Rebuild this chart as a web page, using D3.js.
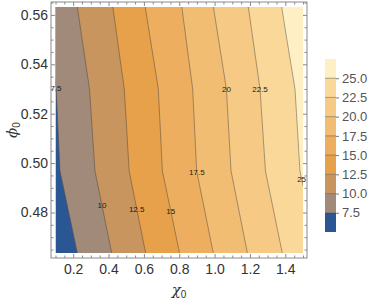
<!DOCTYPE html>
<html>
<head>
<meta charset="utf-8">
<script src="https://cdn.jsdelivr.net/npm/d3@7"></script>
<style>
  html, body { margin: 0; padding: 0; background: #fff; }
  svg { display: block; }
  text { font-family: "Liberation Sans", Arial, sans-serif; }
</style>
</head>
<body>
<svg id="chart" width="374" height="299"></svg>
<script>
// ---- data ----
const chiValues = [0.1, 0.2, 0.3, 0.4, 0.5, 0.6, 0.7, 0.8, 0.9, 1.0, 1.1, 1.2, 1.3, 1.4, 1.5];
const phiValues = [0.4636, 0.4968, 0.5300, 0.5632];
const zRow0 = [5.92, 7.20, 8.49, 9.77, 11.07, 12.37, 13.67, 14.98, 16.29, 17.60, 18.90, 20.19, 21.45, 22.72, 23.98];
const zRow1 = [7.18, 8.44, 9.70, 10.99, 12.28, 13.61, 14.94, 16.23, 17.52, 18.81, 20.09, 21.37, 22.66, 23.94, 25.22];
const zRow2 = [7.45, 8.80, 10.10, 11.37, 12.64, 13.94, 15.24, 16.52, 17.81, 19.12, 20.44, 21.76, 23.06, 24.31, 25.57];
const zRow3 = [8.49, 9.71, 10.94, 12.17, 13.52, 14.91, 16.11, 17.30, 18.68, 20.09, 21.36, 22.62, 23.95, 25.27, 26.59];
const zRows = [zRow0, zRow1, zRow2, zRow3];
const levels = [7.5, 10, 12.5, 15, 17.5, 20, 22.5, 25];
const levelLabels = ["7.5", "10", "12.5", "15", "17.5", "20", "22.5", "25"];
const labelPhi = [0.5304, 0.4830, 0.4814, 0.4806, 0.4964, 0.5300, 0.5300, 0.4936];
const bandColors = ["#2a5693", "#a18a79", "#c9955f", "#e7a14a", "#edaf5f", "#f1bd72", "#f6ca85", "#fad89a", "#fef0c4"];
const xMajorTicks = [0.2, 0.4, 0.6, 0.8, 1.0, 1.2, 1.4];
const xMinorTicks = [0.1, 0.15, 0.25, 0.3, 0.35, 0.45, 0.5, 0.55, 0.65, 0.7, 0.75, 0.85, 0.9, 0.95, 1.05, 1.1, 1.15, 1.25, 1.3, 1.35, 1.45, 1.5];
const yMajorTicks = [0.48, 0.50, 0.52, 0.54, 0.56];
const yMinorTicks = [0.465, 0.47, 0.475, 0.485, 0.49, 0.495, 0.505, 0.51, 0.515, 0.525, 0.53, 0.535, 0.545, 0.55, 0.555, 0.565];
const legendTicks = [7.5, 10, 12.5, 15, 17.5, 20, 22.5, 25];

// ---- layout ----
const svg = d3.select("#chart");
const plot = {x0: 55.5, x1: 303, y0: 7, y1: 253};
const frame = {x0: 51, x1: 307, y0: 2, y1: 258};

const x = d3.scaleLinear().domain([chiValues[0], chiValues[chiValues.length - 1]]).range([plot.x0, plot.x1]);
const y = d3.scaleLinear().domain([phiValues[0], phiValues[phiValues.length - 1]]).range([plot.y1, plot.y0]);

const n = chiValues.length, m = phiValues.length;
const values = [];
zRows.forEach(r => r.forEach(v => values.push(v)));
const dchi = chiValues[1] - chiValues[0];
const dphi = phiValues[1] - phiValues[0];

const contours = d3.contours().size([n, m]).thresholds(levels)(values);
const proj = d3.geoTransform({
  point: function(gx, gy) {
    this.stream.point(x(chiValues[0] + (gx - 0.5) * dchi), y(phiValues[0] + (gy - 0.5) * dphi));
  }
});
const path = d3.geoPath(proj);

svg.append("defs").append("clipPath").attr("id", "clip")
  .append("rect").attr("x", plot.x0).attr("y", plot.y0)
  .attr("width", plot.x1 - plot.x0).attr("height", plot.y1 - plot.y0);

const g = svg.append("g").attr("clip-path", "url(#clip)");
g.append("rect").attr("x", plot.x0).attr("y", plot.y0)
  .attr("width", plot.x1 - plot.x0).attr("height", plot.y1 - plot.y0)
  .attr("fill", bandColors[0]);
g.selectAll("path.fill").data(contours).join("path")
  .attr("class", "fill")
  .attr("d", path)
  .attr("fill", (d, i) => bandColors[i + 1])
  .attr("stroke", (d, i) => bandColors[i + 1])
  .attr("stroke-width", 0.3);
g.selectAll("path.line").data(contours).join("path")
  .attr("class", "line")
  .attr("d", path)
  .attr("fill", "none")
  .attr("stroke", "#3a3a3a")
  .attr("stroke-opacity", 0.55)
  .attr("stroke-width", 0.8);

// contour labels
function crossing(level, phi) {
  let j = 0;
  while (j < m - 2 && phi > phiValues[j + 1]) j++;
  const f = (phi - phiValues[j]) / (phiValues[j + 1] - phiValues[j]);
  const row = chiValues.map((c, i) => zRows[j][i] * (1 - f) + zRows[j + 1][i] * f);
  for (let i = 0; i < n - 1; i++) {
    if ((row[i] - level) * (row[i + 1] - level) <= 0) {
      return chiValues[i] + (level - row[i]) / (row[i + 1] - row[i]) * (chiValues[i + 1] - chiValues[i]);
    }
  }
  return level < row[0] ? chiValues[0] : chiValues[n - 1];
}
svg.append("g").selectAll("text").data(levels).join("text")
  .attr("x", (d, i) => x(crossing(d, labelPhi[i])))
  .attr("y", (d, i) => y(labelPhi[i]))
  .attr("dy", "0.35em")
  .attr("text-anchor", "middle")
  .attr("font-size", 8)
  .attr("fill", "#1a1a1a")
  .text((d, i) => levelLabels[i]);

// ---- frame & ticks ----
const frameColor = "#8a8a8a";
svg.append("rect").attr("x", frame.x0).attr("y", frame.y0)
  .attr("width", frame.x1 - frame.x0).attr("height", frame.y1 - frame.y0)
  .attr("fill", "none").attr("stroke", frameColor).attr("stroke-width", 1);

function styleAxis(sel) {
  sel.select(".domain").remove();
  sel.selectAll(".tick line").attr("stroke", frameColor);
  sel.selectAll(".tick text").attr("fill", "#333").attr("font-size", 14)
    .attr("font-family", "Liberation Sans, Arial, sans-serif");
}
svg.append("g").attr("transform", `translate(0,${frame.y1})`)
  .call(d3.axisBottom(x).tickValues(xMajorTicks).tickFormat(d3.format(".1f")).tickSizeInner(-4).tickSizeOuter(0).tickPadding(6.5))
  .call(styleAxis);
svg.append("g").attr("transform", `translate(0,${frame.y1})`)
  .call(d3.axisBottom(x).tickValues(xMinorTicks).tickFormat("").tickSizeInner(-2.5).tickSizeOuter(0))
  .call(styleAxis);
svg.append("g").attr("transform", `translate(0,${frame.y0})`)
  .call(d3.axisTop(x).tickValues(xMajorTicks).tickFormat("").tickSizeInner(-4).tickSizeOuter(0))
  .call(styleAxis);
svg.append("g").attr("transform", `translate(0,${frame.y0})`)
  .call(d3.axisTop(x).tickValues(xMinorTicks).tickFormat("").tickSizeInner(-2.5).tickSizeOuter(0))
  .call(styleAxis);
svg.append("g").attr("transform", `translate(${frame.x0},0)`)
  .call(d3.axisLeft(y).tickValues(yMajorTicks).tickFormat(d3.format(".2f")).tickSizeInner(-4).tickSizeOuter(0).tickPadding(3))
  .call(styleAxis);
svg.append("g").attr("transform", `translate(${frame.x0},0)`)
  .call(d3.axisLeft(y).tickValues(yMinorTicks).tickFormat("").tickSizeInner(-2.5).tickSizeOuter(0))
  .call(styleAxis);
svg.append("g").attr("transform", `translate(${frame.x1},0)`)
  .call(d3.axisRight(y).tickValues(yMajorTicks).tickFormat("").tickSizeInner(-4).tickSizeOuter(0))
  .call(styleAxis);
svg.append("g").attr("transform", `translate(${frame.x1},0)`)
  .call(d3.axisRight(y).tickValues(yMinorTicks).tickFormat("").tickSizeInner(-2.5).tickSizeOuter(0))
  .call(styleAxis);

// axis titles
const xt = svg.append("text").attr("x", (frame.x0 + frame.x1) / 2).attr("y", 295)
  .attr("text-anchor", "middle").attr("fill", "#333")
  .style("font-family", "DejaVu Serif, serif").attr("font-size", 15);
xt.append("tspan").attr("font-style", "italic").text("χ");
xt.append("tspan").attr("font-size", 10).attr("dy", 3).style("font-family", "Liberation Sans, sans-serif").text("0");

const yt = svg.append("text")
  .attr("transform", `translate(17,${(frame.y0 + frame.y1) / 2}) rotate(-90)`)
  .attr("text-anchor", "middle").attr("fill", "#333")
  .style("font-family", "DejaVu Serif, serif").attr("font-size", 15);
yt.append("tspan").attr("font-style", "italic").text("ϕ");
yt.append("tspan").attr("font-size", 10).attr("dy", 3).style("font-family", "Liberation Sans, sans-serif").text("0");

// ---- legend ----
const lg = {x0: 325, x1: 336, y0: 59, y1: 232};
const ly = d3.scaleLinear().domain([5, 27.5]).range([lg.y1, lg.y0]);
const bandEdges = [5].concat(levels).concat([27.5]);
const leg = svg.append("g");
leg.selectAll("rect").data(bandColors).join("rect")
  .attr("x", lg.x0)
  .attr("width", lg.x1 - lg.x0)
  .attr("y", (d, i) => ly(bandEdges[i + 1]))
  .attr("height", (d, i) => ly(bandEdges[i]) - ly(bandEdges[i + 1]))
  .attr("fill", d => d);
leg.selectAll("line.sep").data(levels).join("line")
  .attr("class", "sep")
  .attr("x1", lg.x0).attr("x2", lg.x1)
  .attr("y1", d => ly(d)).attr("y2", d => ly(d))
  .attr("stroke", "#3a3a3a").attr("stroke-opacity", 0.55).attr("stroke-width", 0.8);
svg.append("g").attr("transform", `translate(${lg.x1},0)`)
  .call(d3.axisRight(ly).tickValues(legendTicks).tickFormat(d3.format(".1f")).tickSizeInner(3).tickSizeOuter(0).tickPadding(3))
  .call(sel => {
    sel.select(".domain").remove();
    sel.selectAll(".tick line").attr("stroke", "#555").attr("stroke-width", 0.8);
    sel.selectAll(".tick text").attr("fill", "#555").attr("font-size", 13)
      .attr("font-family", "Liberation Sans, Arial, sans-serif");
  });
</script>
</body>
</html>
